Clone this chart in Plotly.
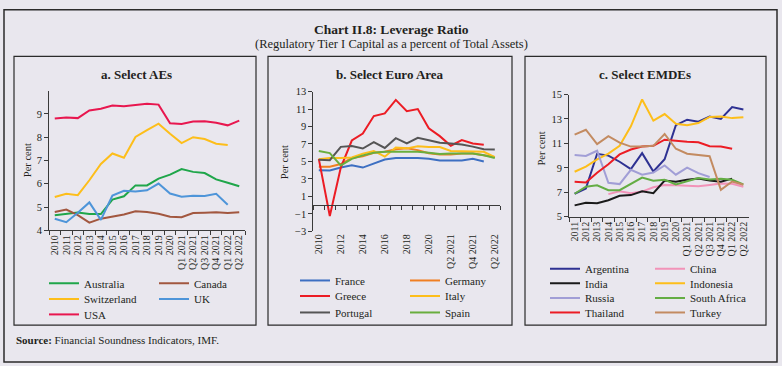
import plotly.graph_objects as go

W, H = 782, 366

# ---------------- data ----------------
cats_a = ['2010', '2011', '2012', '2013', '2014', '2015', '2016', '2017', '2018', '2019', '2020',
          'Q1 2021', 'Q2 2021', 'Q3 2021', 'Q4 2021', 'Q1 2022', 'Q2 2022']
australia = [4.65, 4.72, 4.76, 4.70, 4.70, 5.32, 5.46, 5.93, 5.93, 6.22, 6.39, 6.63, 6.51, 6.46, 6.19, 6.04, 5.89]
canada = [4.79, 4.89, 4.65, 4.33, 4.50, 4.58, 4.68, 4.82, 4.79, 4.71, 4.58, 4.56, 4.74, 4.76, 4.78, 4.74, 4.78]
switzerland = [5.43, 5.57, 5.51, 6.15, 6.85, 7.30, 7.12, 8.01, 8.30, 8.58, 8.15, 7.75, 8.00, 7.92, 7.72, 7.67, None]
uk = [4.50, 4.35, 4.75, 5.20, 4.45, 5.49, 5.70, 5.67, 5.72, 6.01, 5.58, 5.44, 5.49, 5.47, 5.57, 5.10, None]
usa = [8.80, 8.85, 8.82, 9.15, 9.22, 9.36, 9.33, 9.39, 9.44, 9.40, 8.60, 8.57, 8.67, 8.68, 8.62, 8.51, 8.71]

cats_b = ['2010', '2011', '2012', '2013', '2014', '2015', '2016', '2017', '2018', '2019', '2020',
          'Q1 2021', 'Q2 2021', 'Q3 2021', 'Q4 2021', 'Q1 2022', 'Q2 2022']
france = [4.00, 3.96, 4.30, 4.56, 4.30, 4.74, 5.22, 5.40, 5.44, 5.40, 5.30, 5.10, 5.10, 5.10, 5.30, 5.00, None]
germany = [4.40, 4.40, 4.70, 5.40, 5.60, 6.00, 6.10, 6.40, 6.50, 6.30, 5.95, 5.80, 5.80, 5.90, 5.90, 5.70, 5.50]
greece = [5.30, -1.25, 4.30, 7.40, 8.20, 10.20, 10.50, 12.05, 10.75, 11.00, 8.80, 7.90, 6.80, 7.45, 7.05, 6.90, None]
italy = [5.25, 5.40, 5.40, 5.45, 5.90, 6.20, 5.55, 6.60, 6.50, 6.75, 6.65, 6.65, 6.20, 6.20, 6.15, 6.10, 5.50]
portugal = [5.20, 5.15, 6.67, 6.78, 6.48, 7.22, 6.55, 7.67, 7.07, 7.70, 7.44, 7.15, 7.07, 6.93, 6.70, 6.40, 6.37]
spain = [6.20, 5.96, 4.55, 5.30, 5.70, 6.00, 6.10, 6.10, 6.10, 6.10, 6.00, 5.85, 5.90, 5.90, 5.90, 5.70, 5.40]
ticks_b = ['2010', '2012', '2014', '2016', '2018', '2020', 'Q2 2021', 'Q4 2021', 'Q2 2022']

cats_c = ['2011', '2012', '2013', '2014', '2015', '2016', '2017', '2018', '2019', '2020',
          'Q1 2021', 'Q2 2021', 'Q3 2021', 'Q4 2021', 'Q1 2022', 'Q2 2022']
argentina = [6.88, 7.30, 10.15, 10.00, 9.50, 8.90, 10.20, 8.70, 9.70, 12.49, 12.94, 12.78, 13.20, 13.00, 13.97, 13.78]
china = [None, None, None, 6.85, 7.09, 6.93, 7.06, 7.41, 7.60, 7.57, 7.51, 7.49, 7.60, 7.72, 7.70, 7.46]
india = [5.93, 6.14, 6.11, 6.35, 6.72, 6.77, 7.09, 6.93, 7.96, 7.86, 8.02, 8.12, 7.96, 7.86, 8.12, None]
indonesia = [8.68, 9.10, 9.70, 10.16, 10.80, 12.40, 14.60, 12.86, 13.40, 12.60, 12.49, 12.67, 13.17, 13.20, 13.07, 13.15]
russia = [10.05, 9.97, 10.40, 7.78, 7.67, 8.84, 8.44, 8.62, 9.20, 8.44, 9.02, 8.57, 8.25, None, None, None]
south_africa = [6.88, 7.46, 7.57, 7.17, 7.17, 7.72, 8.20, 7.94, 8.02, 7.65, 7.91, 8.17, 8.04, 8.10, 8.02, 7.65]
thailand = [7.86, 7.80, 8.60, 9.30, 10.10, 10.50, 10.74, 10.80, 11.30, 11.20, 11.14, 11.10, 10.77, 10.74, 10.56, None]
turkey = [11.72, 12.12, 10.95, 11.60, 11.06, 10.74, 10.74, 10.80, 11.77, 10.56, 10.16, 10.08, 9.95, 7.20, 7.88, 7.62]

# ---------------- style ----------------
BG = '#E9E7EE'
FONT = 'Liberation Serif'
TXT = '#231F20'
AX = '#3A3A3A'


def px(x):
    return x / W


def py(y):
    return 1 - y / H


fig = go.Figure()

series_a = [('Australia', australia, '#1FA64A'), ('Canada', canada, '#A2573F'),
            ('Switzerland', switzerland, '#FDBE1A'), ('UK', uk, '#4E95D9'),
            ('USA', usa, '#E8174F')]
series_b = [('France', france, '#3D6FC2'), ('Germany', germany, '#F07F22'),
            ('Greece', greece, '#EC1C24'), ('Italy', italy, '#FDBE1A'),
            ('Portugal', portugal, '#555555'), ('Spain', spain, '#69AE3E')]
series_c = [('Argentina', argentina, '#2E3192'), ('China', china, '#F293B8'),
            ('India', india, '#1A1A1A'), ('Indonesia', indonesia, '#FDBE1A'),
            ('Russia', russia, '#A19ED6'), ('South Africa', south_africa, '#64AD44'),
            ('Thailand', thailand, '#EC1C24'), ('Turkey', turkey, '#C38B61')]


def legend_key(n):
    return 'legend' if n == 1 else 'legend' + str(n)


def add_panel(series, cats, xa, ya, leg_start):
    for k, (name, vals, col) in enumerate(series):
        fig.add_trace(go.Scatter(x=cats, y=vals, name=name, mode='lines',
                                 line=dict(color=col, width=2), connectgaps=False,
                                 xaxis=xa, yaxis=ya, legend=legend_key(leg_start + k // 2),
                                 hoverinfo='x+y+name'))


add_panel(series_a, cats_a, 'x', 'y', 1)    # legends 1..3
add_panel(series_b, cats_b, 'x2', 'y2', 4)  # legends 4..6
add_panel(series_c, cats_c, 'x3', 'y3', 7)  # legends 7..10
# helper trace for the zero-line axis of panel b
fig.add_trace(go.Scatter(x=[None], y=[None], xaxis='x4', yaxis='y2', showlegend=False, hoverinfo='skip'))

tickfont = dict(family=FONT, size=10, color=TXT)
common_x = dict(type='category', ticks='outside', ticklen=4, tickwidth=1, tickcolor=AX,
                showline=True, linecolor=AX, linewidth=1, showgrid=False, tickangle=-90,
                tickfont=tickfont, zeroline=False, fixedrange=True)
common_y = dict(ticks='outside', ticklen=4, tickwidth=1, tickcolor=AX, showline=True,
                linecolor=AX, linewidth=1, showgrid=False, zeroline=False,
                tickfont=dict(family=FONT, size=10.5, color=TXT), fixedrange=True)

fig.update_layout(
    xaxis=dict(common_x, domain=[px(49), px(245)], anchor='y', tickson='boundaries',
               range=[-0.5, 16.5], categoryorder='array', categoryarray=cats_a,
               tickmode='array', tickvals=cats_a, ticktext=cats_a),
    yaxis=dict(common_y, domain=[py(232.3), py(88.3)], anchor='x', range=[4, 10],
               tickvals=[4, 5, 6, 7, 8, 9]),
    xaxis2=dict(common_x, domain=[px(313.3), px(500.3)], anchor='y2', ticks='', showline=False,
                range=[-0.5, 16.5], categoryorder='array', categoryarray=cats_b,
                tickmode='array', tickvals=ticks_b, ticktext=ticks_b),
    yaxis2=dict(common_y, domain=[py(233.3), py(89.3)], anchor='x2', range=[-3, 13],
                tickvals=list(range(-3, 14, 2))),
    xaxis4=dict(overlaying='x2', anchor='free', position=py(206.3), domain=[px(313.3), px(500.3)],
                range=[-0.5, 16.5], tickmode='array', tickvals=[i - 0.5 for i in range(18)],
                ticks='outside', ticklen=4, tickcolor=AX, showticklabels=False, showline=True,
                linecolor=AX, linewidth=1, showgrid=False, zeroline=False, fixedrange=True),
    xaxis3=dict(common_x, domain=[px(569), px(749)], anchor='y3', tickson='boundaries',
                range=[-0.5, 15.5], categoryorder='array', categoryarray=cats_c,
                tickmode='array', tickvals=cats_c, ticktext=cats_c),
    yaxis3=dict(common_y, domain=[py(218.3), py(92.3)], anchor='x3', range=[5, 15],
                tickvals=list(range(5, 16, 2))),
)

# legends: one horizontal legend per row (two columns)
leg_rows = [
    (1, 49, 287, 65), (2, 49, 303, 65), (3, 49, 319, 65),
    (4, 300, 284, 65), (5, 300, 300, 65), (6, 300, 317, 65),
    (7, 550, 272, 60), (8, 550, 287, 60), (9, 550, 302, 60), (10, 550, 317, 60),
]
for n, lx, ly, ew in leg_rows:
    fig.update_layout({legend_key(n): dict(orientation='h', x=px(lx - 5), xanchor='left', y=py(ly),
                                           yanchor='middle', entrywidth=ew, entrywidthmode='pixels',
                                           bgcolor='rgba(0,0,0,0)', borderwidth=0,
                                           font=dict(family=FONT, size=11, color=TXT),
                                           itemclick=False, itemdoubleclick=False)})

# frames
shapes = [
    dict(type='rect', xref='paper', yref='paper', x0=px(4), x1=px(777), y0=py(368), y1=py(5),
         line=dict(color='#2B2B2B', width=1.5)),
]
for x0, x1 in [(14, 256), (268, 512), (525, 766)]:
    shapes.append(dict(type='rect', xref='paper', yref='paper', x0=px(x0), x1=px(x1), y0=py(330), y1=py(53),
                       line=dict(color='#2B2B2B', width=1.2)))


def ann(text, x, y, size, xanchor='center', angle=0):
    return dict(text=text, x=px(x), y=py(y), xref='paper', yref='paper', xanchor=xanchor,
                yanchor='middle', showarrow=False, textangle=angle,
                font=dict(family=FONT, size=size, color=TXT))


annotations = [
    ann('<b>Chart II.8: Leverage Ratio</b>', 391, 25, 13.5),
    ann('(Regulatory Tier I Capital as a percent of Total Assets)', 391, 40, 12.5),
    ann('<b>a. Select AEs</b>', 136, 72, 13),
    ann('<b>b. Select Euro Area</b>', 390, 72, 13),
    ann('<b>c. Select EMDEs</b>', 645, 72, 13),
    ann('Per cent', 27, 160, 10.5, angle=-90),
    ann('Per cent', 284, 162, 10.5, angle=-90),
    ann('Per cent', 542, 148, 10.5, angle=-90),
    ann('<b>Source:</b> Financial Soundness Indicators, IMF.', 14, 345, 11, xanchor='left'),
]

fig.update_layout(width=W, height=H, margin=dict(l=0, r=0, t=0, b=0), paper_bgcolor=BG, plot_bgcolor=BG,
                  shapes=shapes, annotations=annotations, showlegend=True, hovermode='closest')

fig.write_html('out.html', config={'displayModeBar': False},
               post_script="document.body.style.margin='0';")
